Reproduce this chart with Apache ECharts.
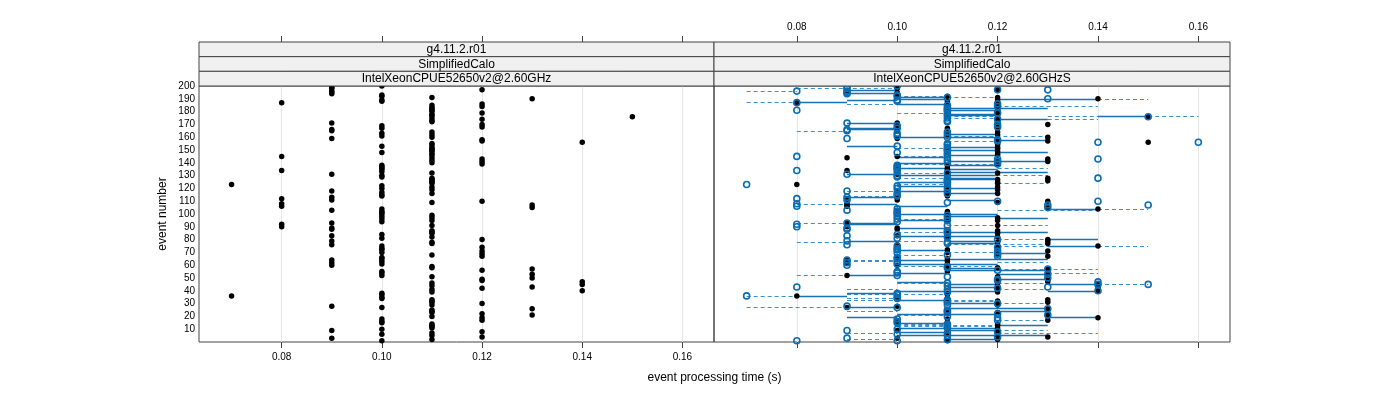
<!DOCTYPE html>
<html><head><meta charset="utf-8">
<script src="https://cdn.jsdelivr.net/npm/echarts@6/dist/echarts.min.js"></script>
<style>html,body{margin:0;padding:0;background:#fff}#c{width:1400px;height:400px}</style>
</head><body><div id="c"></div>
<script>
// ---- data ----
// reference run (left panel dots; blue open circles in right panel), event 1..200
const timeRef = [
0.10,0.11,0.09,0.12,0.11,0.10,0.11,0.12,0.09,0.10, 0.11,0.11,0.11,0.11,0.10,0.10,0.12,0.10,0.12,0.11,
0.13,0.12,0.11,0.11,0.11,0.13,0.10,0.09,0.11,0.12, 0.11,0.11,0.11,0.10,0.10,0.07,0.10,0.10,0.11,0.14,
0.11,0.12,0.13,0.11,0.14,0.11,0.14,0.12,0.12,0.13, 0.11,0.10,0.13,0.10,0.10,0.12,0.13,0.11,0.11,0.09,
0.10,0.09,0.10,0.09,0.10,0.10,0.12,0.11,0.12,0.10, 0.12,0.10,0.10,0.12,0.10,0.09,0.11,0.11,0.09,0.12,
0.10,0.11,0.09,0.10,0.11,0.11,0.11,0.09,0.09,0.08, 0.11,0.08,0.09,0.10,0.11,0.10,0.11,0.10,0.11,0.10,
0.10,0.10,0.09,0.10,0.13,0.08,0.13,0.08,0.11,0.12, 0.09,0.08,0.09,0.10,0.10,0.11,0.10,0.09,0.11,0.10,
0.11,0.10,0.07,0.11,0.11,0.11,0.11,0.11,0.10,0.10, 0.09,0.11,0.10,0.08,0.10,0.10,0.10,0.10,0.12,0.11,
0.12,0.11,0.12,0.11,0.08,0.11,0.11,0.10,0.11,0.11, 0.11,0.11,0.10,0.11,0.11,0.14,0.12,0.12,0.09,0.11,
0.10,0.11,0.10,0.11,0.09,0.09,0.10,0.12,0.10,0.12, 0.09,0.11,0.11,0.12,0.11,0.15,0.11,0.11,0.12,0.11,
0.11,0.11,0.11,0.12,0.11,0.12,0.08,0.10,0.10,0.13, 0.11,0.10,0.10,0.09,0.09,0.09,0.12,0.09,0.09,0.10
];
// second run (black dots in right panel), event 1..200
const timeS = [
0.11,0.12,0.10,0.13,0.12,0.11,0.12,0.12,0.10,0.11, 0.12,0.11,0.12,0.12,0.11,0.10,0.13,0.11,0.14,0.13,
0.13,0.13,0.12,0.11,0.13,0.13,0.09,0.10,0.12,0.12, 0.13,0.12,0.13,0.11,0.10,0.08,0.11,0.11,0.12,0.14,
0.14,0.12,0.14,0.12,0.14,0.12,0.13,0.12,0.13,0.12, 0.12,0.09,0.13,0.13,0.11,0.13,0.13,0.12,0.11,0.10,
0.11,0.09,0.11,0.09,0.11,0.10,0.13,0.12,0.12,0.11, 0.13,0.11,0.12,0.12,0.14,0.10,0.13,0.12,0.13,0.13,
0.11,0.12,0.10,0.11,0.12,0.11,0.12,0.10,0.10,0.09, 0.12,0.09,0.09,0.11,0.12,0.11,0.12,0.11,0.11,0.11,
0.11,0.11,0.10,0.14,0.13,0.09,0.09,0.09,0.12,0.13, 0.10,0.09,0.10,0.11,0.11,0.12,0.11,0.10,0.12,0.11,
0.12,0.11,0.08,0.12,0.12,0.13,0.12,0.13,0.11,0.11, 0.10,0.12,0.11,0.09,0.11,0.11,0.10,0.11,0.12,0.12,
0.13,0.12,0.13,0.09,0.10,0.12,0.12,0.11,0.12,0.11, 0.12,0.12,0.11,0.12,0.12,0.15,0.13,0.12,0.10,0.13,
0.11,0.12,0.11,0.12,0.10,0.10,0.11,0.12,0.10,0.13, 0.10,0.12,0.12,0.12,0.12,0.15,0.12,0.11,0.12,0.12,
0.12,0.12,0.11,0.12,0.11,0.12,0.08,0.11,0.12,0.14, 0.12,0.11,0.10,0.10,0.10,0.09,0.12,0.10,0.10,0.10
];
// extra open circles in right panel
const extraCircleTime  = [0.16,0.15,0.15,0.13,0.08,0.14,0.08,0.08,0.14,0.14,0.08];
const extraCircleEvent = [156, 107, 45, 197, 196, 143, 43, 181, 110, 128, 1];
// solid segments: [event, from, to]
const solidSegs = [
[197,0.09,0.10],[194,0.09,0.10],[191,0.10,0.11],[190,0.10,0.11],[189,0.09,0.10],[187,0.08,0.09],[186,0.10,0.11],
[183,0.11,0.12],[183,0.12,0.13],[181,0.11,0.12],[178,0.11,0.12],[177,0.11,0.12],[171,0.09,0.10],[167,0.09,0.10],
[166,0.09,0.10],[162,0.11,0.12],[160,0.11,0.12],[160,0.10,0.11],[158,0.12,0.13],[153,0.09,0.10],[152,0.11,0.12],
[150,0.11,0.12],[148,0.12,0.13],[146,0.11,0.12],[141,0.11,0.13],[140,0.10,0.11],[136,0.10,0.11],[135,0.11,0.12],
[133,0.11,0.13],[190,0.12,0.14],[176,0.14,0.15],[174,0.12,0.13],[144,0.10,0.11],[138,0.11,0.12],
[131,0.09,0.10],[128,0.11,0.12],[127,0.11,0.12],[125,0.10,0.11],[122,0.10,0.11],[120,0.11,0.12],[116,0.11,0.12],
[113,0.09,0.10],[108,0.09,0.10],[104,0.13,0.14],[100,0.10,0.11],[100,0.11,0.12],[97,0.12,0.13],[93,0.09,0.10],
[92,0.09,0.10],[89,0.10,0.11],[86,0.11,0.13],[80,0.13,0.14],[79,0.09,0.10],[79,0.11,0.12],[75,0.13,0.14],
[72,0.10,0.11],[69,0.12,0.13],[65,0.11,0.13],[64,0.10,0.11],[130,0.10,0.12],[118,0.10,0.11],[111,0.11,0.12],
[106,0.10,0.11],[98,0.11,0.12],[95,0.10,0.11],[83,0.10,0.12],[77,0.11,0.12],
[61,0.10,0.12],[56,0.11,0.13],[54,0.10,0.11],[53,0.12,0.13],[52,0.09,0.10],[45,0.11,0.12],[45,0.13,0.14],
[40,0.13,0.14],[40,0.10,0.12],[38,0.09,0.10],[36,0.08,0.09],[27,0.09,0.10],[26,0.11,0.13],[22,0.10,0.12],
[19,0.09,0.10],[19,0.13,0.14],[11,0.10,0.12],[9,0.11,0.12],[5,0.10,0.12],[5,0.12,0.13],[2,0.11,0.12],
[58,0.11,0.12],[49,0.12,0.13],[47,0.10,0.11],[43,0.11,0.12],[33,0.10,0.11],[30,0.11,0.12],[24,0.12,0.13],
[15,0.10,0.11],[13,0.12,0.13],[8,0.10,0.11]
];
// dashed segments: [event, from, to]
const dashSegs = [
[198,0.08,0.10],[196,0.07,0.08],[194,0.09,0.10],[192,0.10,0.11],[191,0.11,0.12],[190,0.14,0.15],[187,0.07,0.08],
[186,0.09,0.10],[184,0.12,0.14],[179,0.10,0.11],[176,0.13,0.14],[176,0.15,0.16],[176,0.11,0.12],[175,0.11,0.12],
[174,0.13,0.14],[165,0.08,0.09],[161,0.11,0.13],[157,0.11,0.12],[151,0.10,0.11],[145,0.10,0.11],[139,0.10,0.11],
[139,0.11,0.12],[136,0.12,0.13],
[132,0.10,0.11],[130,0.11,0.13],[128,0.10,0.11],[124,0.12,0.13],[123,0.10,0.11],[118,0.09,0.10],[114,0.09,0.10],
[108,0.08,0.09],[103,0.12,0.14],[104,0.14,0.15],[96,0.10,0.11],[93,0.08,0.09],[91,0.11,0.13],[86,0.10,0.11],
[80,0.12,0.13],[79,0.10,0.11],[78,0.08,0.09],[76,0.11,0.13],[75,0.14,0.15],[75,0.12,0.13],[70,0.11,0.12],
[68,0.10,0.11],[64,0.09,0.10],
[63,0.09,0.10],[62,0.12,0.13],[59,0.10,0.12],[57,0.12,0.14],[54,0.13,0.14],[52,0.08,0.09],[46,0.10,0.11],
[46,0.12,0.13],[45,0.14,0.15],[41,0.09,0.10],[41,0.12,0.13],[37,0.09,0.10],[37,0.10,0.11],[36,0.07,0.08],
[34,0.09,0.10],[33,0.09,0.10],[33,0.11,0.12],[32,0.11,0.12],[30,0.12,0.13],[27,0.07,0.09],[24,0.09,0.10],
[21,0.10,0.11],[17,0.12,0.13],[14,0.10,0.11],[13,0.10,0.12],[12,0.10,0.12],[9,0.12,0.13],[7,0.09,0.10],
[7,0.12,0.14],[2,0.09,0.10]
];
const xTicks = [0.08, 0.10, 0.12, 0.14, 0.16];
const stripLeft  = ['g4.11.2.r01', 'SimplifiedCalo', 'IntelXeonCPUE52650v2@2.60GHz'];
const stripRight = ['g4.11.2.r01', 'SimplifiedCalo', 'IntelXeonCPUE52650v2@2.60GHzS'];

// ---- layout ----
const XMIN = 0.0635, XMAX = 0.1663;
const P = [{left:199, width:515}, {left:714, width:516}];
const TOP = 86, H = 256, STRIP_H = 44/3;
const FONT = '"Liberation Sans", Arial, Helvetica, sans-serif';
const BLUE = '#0a6db3', SOLID = '#1872b4', DASH = '#3b90ce';

const chart = echarts.init(document.getElementById('c'), null, {renderer:'canvas'});

function xAx(grid, pos, labels){
  return {
    type:'value', gridIndex:grid, position:pos, min:XMIN, max:XMAX,
    offset: pos === 'top' ? 44 : 0,
    axisLine:{show:false},
    axisTick:{show:true, customValues:xTicks, length:6, inside:false, lineStyle:{color:'#444', width:1}},
    axisLabel:{show:labels, customValues:xTicks, formatter:v=>v.toFixed(2), fontSize:10, color:'#000', margin:10, fontFamily:FONT},
    splitLine:{show:false}
  };
}
function yAx(grid, labels){
  return {
    type:'value', gridIndex:grid, min:0, max:200, interval:10,
    axisLine:{show:false}, axisTick:{show:false}, splitLine:{show:false},
    axisLabel:{show:labels, formatter:v=> v===0 ? '' : String(v), fontSize:10, color:'#000', margin:4, fontFamily:FONT}
  };
}
const segData = (segs, color, type, width) => segs.map(s => ({
  coords:[[s[1], s[0]], [s[2], s[0]]],
  lineStyle:{color:color, type:type, width:width, opacity:1}
}));
const gridLineData = xTicks.map(v => ({coords:[[v, 0], [v, 200]]}));

const graphics = [];
[stripLeft, stripRight].forEach((labels, p) => {
  labels.forEach((txt, k) => {
    const y = 42 + k*STRIP_H;
    graphics.push({type:'rect', shape:{x:P[p].left, y:y, width:P[p].width, height:STRIP_H},
      style:{fill:'#f0f0f0', stroke:'#444', lineWidth:1}, z:10});
    graphics.push({type:'text', x:P[p].left + P[p].width/2, y:y + STRIP_H/2 + 0.5,
      style:{text:txt, fill:'#000', font:'12px '+FONT, textAlign:'center', textVerticalAlign:'middle'}, z:11});
  });
});
graphics.push({type:'text', x:714.5, y:378, style:{text:'event processing time (s)', fill:'#000',
  font:'12px '+FONT, textAlign:'center', textVerticalAlign:'middle'}});
graphics.push({type:'text', x:163, y:214, rotation:Math.PI/2, style:{text:'event number', fill:'#000',
  font:'12px '+FONT, textAlign:'center', textVerticalAlign:'middle'}});

const dotStyle = {color:'#000', opacity:1};
const ringStyle = {color:'rgba(255,255,255,0)', borderColor:BLUE, borderWidth:1.6, opacity:1};

chart.setOption({
  animation:false,
  textStyle:{fontFamily:FONT},
  grid:[
    {left:P[0].left, top:TOP, width:P[0].width, height:H, show:true, borderColor:'#444', borderWidth:1, backgroundColor:'transparent'},
    {left:P[1].left, top:TOP, width:P[1].width, height:H, show:true, borderColor:'#444', borderWidth:1, backgroundColor:'transparent'}
  ],
  xAxis:[xAx(0,'bottom',true), xAx(0,'top',false), xAx(1,'bottom',false), xAx(1,'top',true)],
  yAxis:[yAx(0,true), yAx(1,false)],
  graphic:graphics,
  series:[
    {type:'lines', coordinateSystem:'cartesian2d', xAxisIndex:0, yAxisIndex:0, silent:true, z:1,
      data:gridLineData, lineStyle:{color:'#e6e6e6', width:1, opacity:1}},
    {type:'lines', coordinateSystem:'cartesian2d', xAxisIndex:2, yAxisIndex:1, silent:true, z:1,
      data:gridLineData, lineStyle:{color:'#e6e6e6', width:1, opacity:1}},
    {type:'scatter', xAxisIndex:0, yAxisIndex:0, symbol:'circle', symbolSize:5.5, z:5, silent:true,
      itemStyle:dotStyle, data:timeRef.map((t,i)=>[t, i+1])},
    {type:'lines', coordinateSystem:'cartesian2d', xAxisIndex:2, yAxisIndex:1, silent:true, z:2,
      color:[DASH], data:segData(dashSegs, DASH, [4,3], 1), lineStyle:{color:DASH, width:1, type:[4,3], opacity:1}},
    {type:'lines', coordinateSystem:'cartesian2d', xAxisIndex:2, yAxisIndex:1, silent:true, z:3,
      color:[SOLID], data:segData(solidSegs, SOLID, 'solid', 1.4), lineStyle:{color:SOLID, width:1.4, opacity:1}},
    {type:'scatter', xAxisIndex:2, yAxisIndex:1, symbol:'circle', symbolSize:5.5, z:4, silent:true,
      itemStyle:dotStyle, data:timeS.map((t,i)=>[t, i+1])},
    {type:'scatter', xAxisIndex:2, yAxisIndex:1, symbol:'circle', symbolSize:6, z:5, silent:true,
      itemStyle:ringStyle, data:timeRef.map((t,i)=>[t, i+1])},
    {type:'scatter', xAxisIndex:2, yAxisIndex:1, symbol:'circle', symbolSize:6, z:5, silent:true,
      itemStyle:ringStyle, data:extraCircleTime.map((t,i)=>[t, extraCircleEvent[i]])}
  ]
});
</script></body></html>
